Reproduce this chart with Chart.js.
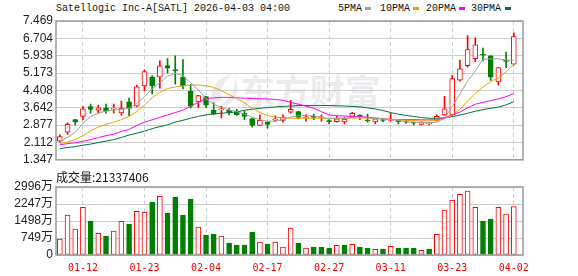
<!DOCTYPE html>
<html lang="zh-CN">
<head>
<meta charset="UTF-8">
<title>Satellogic Inc-A[SATL]</title>
<script src="https://cdn.jsdelivr.net/npm/chart.js"></script>
<style>
  body { margin: 0; background: #fff; }
  #wrap { position: relative; width: 578px; height: 276px; overflow: hidden; background: #fff; }
  .t { position: absolute; font: 10px 'Liberation Mono', monospace; color: #111; white-space: nowrap; line-height: 12px; }
  .sw { position: absolute; width: 6px; height: 3px; }
  #volTitle { position: absolute; left: 56px; top: 170px; font: 12px 'Noto Sans CJK SC', sans-serif; line-height: 14px; color: #111; white-space: nowrap; }
  canvas { position: absolute; left: 0; }
</style>
</head>
<body>
<div id="wrap">
  <div class="t" style="left:56px;top:3px">Satellogic Inc-A[SATL] 2026-04-03 04:00</div>
  <div class="t" style="left:338px;top:3px">5PMA</div>
  <div class="sw" style="left:365px;top:7px;background:#a0a0a0"></div>
  <div class="t" style="left:380px;top:3px">10PMA</div>
  <div class="sw" style="left:413px;top:7px;background:#f5a000"></div>
  <div class="t" style="left:426px;top:3px">20PMA</div>
  <div class="sw" style="left:459px;top:7px;background:#ff00ff"></div>
  <div class="t" style="left:471px;top:3px">30PMA</div>
  <div class="sw" style="left:505px;top:7px;background:#00703c"></div>
  <canvas id="price" width="578" height="170" style="top:0"></canvas>
  <canvas id="vol" width="578" height="106" style="top:170px"></canvas>
  <div id="volTitle">成交量:21337406</div>
</div>
<script>
// trading days shown
const dates = ["01-07","01-08","01-09","01-12","01-13","01-14","01-15","01-16","01-20","01-21",
  "01-22","01-23","01-26","01-27","01-28","01-29","01-30","02-02","02-03","02-04",
  "02-05","02-06","02-09","02-10","02-11","02-12","02-13","02-17","02-18","02-19",
  "02-20","02-23","02-24","02-25","02-26","02-27","03-02","03-03","03-04","03-05",
  "03-06","03-09","03-10","03-11","03-12","03-13","03-16","03-17","03-18","03-19",
  "03-20","03-23","03-24","03-25","03-26","03-27","03-30","03-31","04-01","04-02"];
const xTickLabels = ["01-12","01-23","02-04","02-17","02-27","03-11","03-23","04-02"];

// OHLC
const opens  = [2.17,2.57,3.12,3.26,3.69,3.54,3.64,3.58,3.42,3.90, 3.71,4.61,5.00,4.99,5.50,5.30,4.99,4.37,3.90,4.14,
                3.54,3.55,3.54,3.50,3.40,3.16,2.86,3.01,3.10,3.08, 3.45,3.47,3.20,3.25,3.20,3.05,3.03,3.02,3.26,3.32,
                3.09,3.02,3.10,3.08,3.05,3.02,2.97,2.91,2.93,3.08, 3.33,3.33,4.86,5.50,5.81,5.98,5.93,4.78,5.71,5.57];
const highs  = [2.45,2.98,3.13,3.69,3.80,3.76,3.80,3.80,3.94,4.07, 4.64,5.32,5.06,5.71,5.81,5.93,5.77,4.68,4.19,4.15,
                3.86,3.71,3.61,3.57,3.50,3.19,3.33,3.02,3.29,3.33, 3.97,3.48,3.34,3.36,3.32,3.12,3.26,3.22,3.44,3.34,
                3.36,3.16,3.15,3.40,3.08,3.12,3.01,3.02,3.00,3.33, 4.15,5.07,5.74,6.83,6.73,6.27,5.94,5.42,6.10,6.95];
const lows   = [2.12,2.47,2.89,3.12,3.40,3.40,3.40,3.40,3.32,3.29, 3.69,4.39,4.25,4.51,5.17,4.68,4.47,3.62,3.66,3.66,
                3.35,3.19,3.33,3.30,3.12,2.79,2.85,2.74,3.05,3.01, 3.40,3.15,3.05,3.12,3.05,2.93,3.01,2.93,3.23,3.12,
                3.01,2.93,3.03,3.05,2.93,2.95,2.89,2.88,2.88,3.05, 3.30,3.26,4.82,5.43,5.67,5.71,4.85,4.64,5.41,5.53];
const closes = [2.37,2.91,3.02,3.59,3.57,3.64,3.49,3.60,3.63,3.61, 4.56,5.24,4.61,5.49,5.39,5.28,4.61,3.71,4.18,3.76,
                3.36,3.58,3.43,3.33,3.26,2.86,3.09,2.91,3.12,3.23, 3.57,3.22,3.24,3.22,3.21,3.03,3.15,3.14,3.40,3.23,
                3.06,3.15,3.08,3.12,3.03,3.01,2.96,3.01,2.96,3.26, 3.59,4.93,5.36,6.21,6.42,5.96,4.99,5.41,5.69,6.78];

// moving averages
const ma5  = [2.13,2.34,2.55,2.95,3.26,3.40,3.50,3.54,3.57,3.62, 3.83,4.14,4.47,4.75,5.03,5.16,5.06,4.75,4.42,4.04,
              3.80,3.66,3.54,3.47,3.36,3.23,3.11,3.05,3.05,3.12, 3.23,3.29,3.29,3.29,3.23,3.15,3.18,3.18,3.22,3.23,
              3.20,3.18,3.15,3.12,3.08,3.03,3.01,2.99,2.98,3.01, 3.19,3.69,4.25,4.82,5.27,5.78,5.80,5.80,5.74,5.74];
const ma10 = [2.06,2.13,2.24,2.41,2.62,2.79,2.91,3.01,3.12,3.26, 3.47,3.76,4.08,4.32,4.49,4.56,4.61,4.64,4.65,4.61,
              4.54,4.39,4.22,4.04,3.86,3.62,3.43,3.29,3.23,3.19, 3.18,3.18,3.18,3.18,3.18,3.18,3.18,3.18,3.19,3.19,
              3.18,3.16,3.15,3.13,3.11,3.09,3.08,3.06,3.06,3.08, 3.15,3.32,3.57,3.94,4.28,4.56,4.79,4.96,5.22,5.57];
const ma20 = [2.01,2.06,2.10,2.16,2.24,2.33,2.41,2.48,2.60,2.69, 2.86,3.01,3.11,3.22,3.32,3.43,3.54,3.71,3.88,4.04,
              4.08,4.10,4.10,4.08,4.07,4.05,4.04,4.03,4.01,3.97, 3.88,3.80,3.71,3.62,3.47,3.33,3.29,3.28,3.26,3.25,
              3.23,3.19,3.16,3.13,3.12,3.12,3.12,3.11,3.11,3.11, 3.19,3.33,3.45,3.64,3.80,3.88,3.96,4.03,4.13,4.27];
const ma30 = [1.84,1.89,1.93,1.99,2.04,2.11,2.17,2.24,2.33,2.44, 2.52,2.61,2.72,2.81,2.89,3.01,3.09,3.18,3.26,3.33,
              3.37,3.40,3.43,3.46,3.53,3.58,3.62,3.65,3.68,3.70, 3.72,3.74,3.74,3.74,3.74,3.74,3.73,3.72,3.70,3.68,
              3.64,3.59,3.52,3.43,3.36,3.30,3.26,3.21,3.18,3.18, 3.20,3.25,3.32,3.40,3.49,3.56,3.62,3.67,3.77,3.91];

// volume in 万 shares
const volumes = [705,1762,1146,2100,1498,955,837,1057,1483,1366, 1924,1880,2335,2585,1850,2555,1762,2467,1234,881,
                 925,837,529,441,441,1013,573,485,573,352, 1190,529,308,352,352,308,426,441,470,352,
                 308,250,264,382,308,308,308,206,264,911, 1983,2423,2673,2820,2100,1498,1586,2100,1806,2134];

const priceTicks = ["1.347","2.112","2.877","3.642","4.408","5.173","5.938","6.704","7.469"];
const volTicks = [0, 749, 1498, 2247, 2996];

const RED = '#ff0000', GREEN = '#008000';
const tickIdx = xTickLabels.map(d => dates.indexOf(d));
const up = closes.map((c, i) => c >= opens[i]);
const volUp = closes.map((c, i) => i === 0 ? c >= opens[0] : c >= closes[i - 1]);

const frame = {
  id: 'frame',
  afterDraw(chart) {
    const a = chart.chartArea, ctx = chart.ctx;
    ctx.save();
    ctx.strokeStyle = '#999';
    ctx.lineWidth = 1.5;
    ctx.strokeRect(a.left, a.top, a.right - a.left, a.bottom - a.top);
    ctx.restore();
  }
};

const watermark = {
  id: 'watermark',
  beforeDraw(chart) {
    const ctx = chart.ctx;
    ctx.save();
    ctx.fillStyle = '#ececf0';
    ctx.beginPath();
    ctx.moveTo(212, 104);
    ctx.quadraticCurveTo(208, 80, 232, 74);
    ctx.quadraticCurveTo(218, 86, 222, 100);
    ctx.closePath();
    ctx.fill();
    ctx.beginPath();
    ctx.moveTo(220, 106);
    ctx.quadraticCurveTo(238, 92, 234, 76);
    ctx.quadraticCurveTo(244, 94, 226, 107);
    ctx.closePath();
    ctx.fill();
    ctx.font = 'bold 35px "Noto Sans CJK SC"';
    ctx.textBaseline = 'middle';
    ctx.fillText('东方财富', 240, 92);
    ctx.restore();
  }
};

function line(data, color) {
  return {
    type: 'line', data: data.map((v, i) => ({ x: i, y: v })),
    borderColor: color, borderWidth: 1, pointRadius: 0, tension: 0, order: 0
  };
}

new Chart(document.getElementById('price'), {
  type: 'bar',
  data: {
    datasets: [
      line(ma5, '#a0a0a0'),
      line(ma10, '#f5a000'),
      line(ma20, '#ff00ff'),
      line(ma30, '#00703c'),
      {
        data: highs.map((h, i) => ({ x: i, y: [lows[i], h] })),
        backgroundColor: up.map(u => u ? RED : GREEN),
        barThickness: 1, grouped: false, order: 3
      },
      {
        data: opens.map((o, i) => ({ x: i, y: [o, closes[i]] })),
        backgroundColor: up.map(u => u ? '#fff' : GREEN),
        borderColor: up.map(u => u ? RED : GREEN),
        borderWidth: 1, borderSkipped: false, minBarLength: 1,
        barThickness: 5, grouped: false, order: 2
      }
    ]
  },
  options: {
    responsive: false, animation: false,
    layout: { padding: { top: 21, right: 55, bottom: 5, left: 0 } },
    plugins: { legend: { display: false }, tooltip: { enabled: false } },
    scales: {
      x: {
        type: 'linear', min: -0.5, max: 60.2, offset: false,
        afterBuildTicks: s => { s.ticks = tickIdx.map(v => ({ value: v })); },
        afterFit: s => { s.height = 0; },
        ticks: { display: false },
        grid: { color: '#cfcfcf', drawTicks: false, offset: false },
        border: { display: false, dash: [4, 3] }
      },
      y: {
        min: +priceTicks[0], max: +priceTicks[priceTicks.length - 1],
        afterBuildTicks: s => { s.ticks = priceTicks.map(t => ({ value: +t })); },
        afterFit: s => { s.width = 56; },
        ticks: {
          autoSkip: false, padding: 3, color: '#222',
          font: { family: "'Liberation Sans', Arial, sans-serif", size: 12 },
          callback: (v, i) => priceTicks[i]
        },
        grid: { color: '#cccccc', drawTicks: false },
        border: { display: false }
      }
    }
  },
  plugins: [watermark, frame]
});

new Chart(document.getElementById('vol'), {
  type: 'bar',
  data: {
    datasets: [{
      data: volumes.map((v, i) => ({ x: i, y: v })),
      backgroundColor: volUp.map(u => u ? '#fff' : GREEN),
      borderColor: volUp.map(u => u ? RED : GREEN),
      borderWidth: 1, borderSkipped: false, barThickness: 5, grouped: false
    }]
  },
  options: {
    responsive: false, animation: false,
    layout: { padding: { top: 17, right: 55, bottom: 0, left: 0 } },
    plugins: { legend: { display: false }, tooltip: { enabled: false } },
    scales: {
      x: {
        type: 'linear', min: -0.5, max: 60.2, offset: false,
        afterBuildTicks: s => { s.ticks = tickIdx.map(v => ({ value: v })); },
        afterFit: s => { s.height = 21; },
        ticks: {
          autoSkip: false, maxRotation: 0, padding: 7, color: RED,
          font: { family: "'DejaVu Sans Mono', monospace", size: 10 },
          callback: (v) => dates[v]
        },
        grid: { color: '#cfcfcf', drawTicks: false, offset: false },
        border: { display: false, dash: [4, 3] }
      },
      y: {
        min: 0, max: volTicks[volTicks.length - 1],
        afterBuildTicks: s => { s.ticks = volTicks.map(v => ({ value: v })); },
        afterFit: s => { s.width = 56; },
        ticks: {
          autoSkip: false, padding: 3, color: '#222',
          font: { family: "'Liberation Sans', 'Noto Sans CJK SC', sans-serif", size: 12 },
          callback: v => v === 0 ? '0' : v + '万'
        },
        grid: { color: '#cccccc', drawTicks: false },
        border: { display: false }
      }
    }
  },
  plugins: [frame]
});
</script>
</body>
</html>
